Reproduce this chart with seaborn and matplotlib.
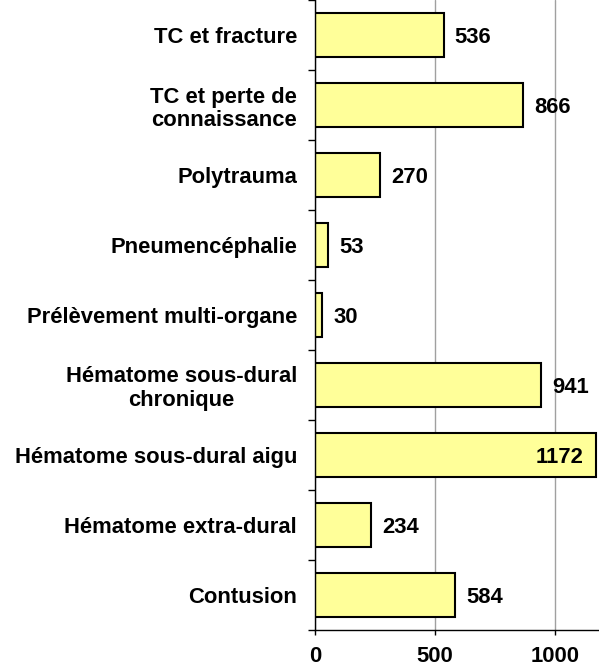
import matplotlib
matplotlib.use("Agg")
import matplotlib.pyplot as plt
import seaborn as sns
import pandas as pd
from matplotlib.ticker import FixedLocator

categories = [
    "TC et fracture",
    "TC et perte de\nconnaissance",
    "Polytrauma",
    "Pneumencéphalie",
    "Prélèvement multi-organe",
    "Hématome sous-dural\nchronique",
    "Hématome sous-dural aigu",
    "Hématome extra-dural",
    "Contusion",
]
counts = [536, 866, 270, 53, 30, 941, 1172, 234, 584]
x_ticks = [0, 500, 1000]

sns.set_theme(style="white")
plt.rcParams["font.family"] = ["Liberation Sans", "DejaVu Sans"]
plt.rcParams["font.weight"] = "bold"
plt.rcParams["text.color"] = "black"
plt.rcParams["xtick.color"] = "black"
plt.rcParams["ytick.color"] = "black"

FS = 15.8

df = pd.DataFrame({"cat": categories, "n": counts})

fig = plt.figure(figsize=(5.99, 6.66), dpi=100)
ax = fig.add_axes([315 / 599, 36 / 666, 284 / 599, 630 / 666])

sns.barplot(data=df, y="cat", x="n", orient="h", color="#FFFF99",
            saturation=1, edgecolor="black", linewidth=1.5, width=0.63,
            ax=ax, zorder=3)

ax.set_xlim(0, 1183)
ax.set_ylim(len(categories) - 0.5, -0.5)
ax.set_xlabel("")
ax.set_ylabel("")

# value labels: outside the bar, or inside for the longest one
for i, v in enumerate(counts):
    if v > 1100:
        ax.annotate(str(v), xy=(v, i), xytext=(-9.5, -1.5),
                    textcoords="offset points", ha="right", va="center",
                    fontsize=FS, fontweight="bold", color="black", zorder=4)
    else:
        ax.annotate(str(v), xy=(v, i), xytext=(8, -1.5),
                    textcoords="offset points", ha="left", va="center",
                    fontsize=FS, fontweight="bold", color="black", zorder=4)

# axes styling
for s in ["top", "right"]:
    ax.spines[s].set_visible(False)
for s in ["left", "bottom"]:
    ax.spines[s].set_color("black")
    ax.spines[s].set_linewidth(1.0)
    ax.spines[s].set_zorder(5)

ax.set_xticks(x_ticks)
ax.set_xticklabels([str(t) for t in x_ticks], fontsize=FS, fontweight="bold")
ax.tick_params(axis="x", which="major", direction="out", length=3.6, width=1,
               color="black", pad=8, bottom=True, labelcolor="black")
ax.xaxis.grid(True, color="#A0A0A0", linewidth=1, zorder=0)
ax.yaxis.grid(False)

ax.set_yticks(range(len(categories)))
ax.set_yticklabels(categories, fontsize=FS, fontweight="bold", linespacing=1.15)
for lab in ax.get_yticklabels():
    lab.set_multialignment("center")
ax.tick_params(axis="y", which="major", length=0, pad=13, labelcolor="black")
ax.yaxis.set_minor_locator(FixedLocator([i - 0.5 for i in range(len(categories) + 1)]))
ax.tick_params(axis="y", which="minor", direction="out", length=5, width=1,
               color="black", left=True)

fig.savefig("out.png", dpi=100)
